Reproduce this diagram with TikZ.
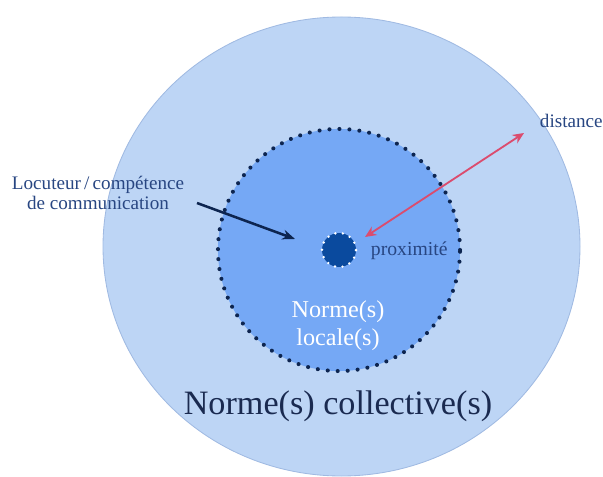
\documentclass[tikz,border=0pt]{standalone}
\usepackage{fontspec}
\setmainfont{Liberation Serif}
\usetikzlibrary{arrows.meta}
\definecolor{collectif}{RGB}{189,213,245}
\definecolor{collectifbord}{RGB}{160,186,226}
\definecolor{local}{RGB}{117,168,245}
\definecolor{noyau}{RGB}{10,74,158}
\definecolor{pointille}{RGB}{13,37,80}
\definecolor{rose}{RGB}{219,76,110}
\definecolor{etiquette}{RGB}{40,70,130}
\definecolor{titre}{RGB}{26,42,80}

\begin{document}
\begin{tikzpicture}[x=0.025cm,y=-0.025cm]
        \useasboundingbox (0,0) rectangle (603,477);
        \begin{scope}

            \fill[collectif, draw=collectifbord, line width=0.6pt] (341.5,246.5) ellipse (238.5 and 229.5);

            \node[circle, fill=local, draw=pointille, line width=2.9pt, line cap=round, dash pattern=on 0pt off 7.1pt, minimum size=6.05cm, inner sep=0pt] (locale) at (339,250) {};
            \node[circle, fill=noyau, draw=white, line width=1.9pt, line cap=round, dash pattern=on 0pt off 5.4pt, minimum size=0.85cm, inner sep=0pt] (noyau) at (339,250) {};

            \node[align=center, etiquette, font=\fontsize{13.6}{14.2}\selectfont] (locuteur) at (98,193) {Locuteur\,/\,compétence\\de communication};
            \node[anchor=west, etiquette, font=\fontsize{14}{14}\selectfont] (proximite) at (366,251) {proximité};
            \node[anchor=west, etiquette, font=\fontsize{13.6}{14}\selectfont] (distance) at (535,121) {distance};
            \node[align=center, white, font=\fontsize{17.2}{19.9}\selectfont] (normelocale) at (338,326) {Norme(s)\\locale(s)};
            \node[titre, font=\fontsize{24.3}{26}\selectfont] (normecollective) at (338,406) {Norme(s) collective(s)};

            \coordinate (loc-pointe) at (295,239);
            \coordinate (loc-depart) at (197,203);
            \coordinate (dist-a) at (365,237);
            \coordinate (dist-b) at (524,133);

            \draw[pointille, line width=1.8pt, -{Stealth[length=9pt,width=7pt]}] (loc-depart) -- (loc-pointe);
            \draw[rose, line width=1.3pt, {Stealth[length=8pt,width=7pt]}-{Stealth[length=8pt,width=7pt]}] (dist-a) -- (dist-b);

        \end{scope}
    \end{tikzpicture}
\end{document}
